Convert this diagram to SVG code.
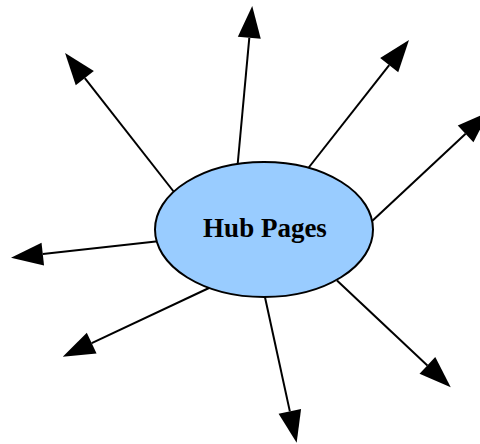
<svg xmlns="http://www.w3.org/2000/svg" width="480" height="444" viewBox="0 0 480 444">
  <style>
    .edge { stroke: #000; stroke-width: 2; fill: none; marker-end: url(#head); }
    .hub { fill: #99CCFF; stroke: #000; stroke-width: 2; }
    .label { font-family: "Liberation Serif", "Times New Roman", serif; font-weight: bold; font-size: 27px; fill: #000; }
  </style>
  <defs>
    <marker id="head" markerUnits="userSpaceOnUse" markerWidth="34" markerHeight="24" refX="0" refY="11.5" orient="auto" overflow="visible">
      <path d="M0,0 L32,11.5 L0,23 Z" fill="#000"/>
    </marker>
  </defs>

  <!-- spokes leaving the hub; each line stops at the base of its arrowhead -->
  <g id="connectors">
    <line class="edge" x1="237.5" y1="166" x2="249.3" y2="37.8"/>
    <line class="edge" x1="174" y1="192" x2="84.8" y2="78.2"/>
    <line class="edge" x1="306" y1="171" x2="389.2" y2="65.1"/>
    <line class="edge" x1="370" y1="223" x2="465.6" y2="133.8"/>
    <line class="edge" x1="158" y1="241.3" x2="42.8" y2="254.1"/>
    <line class="edge" x1="209" y1="288" x2="91.7" y2="343.1"/>
    <line class="edge" x1="264.5" y1="295" x2="289.85" y2="411.4"/>
    <line class="edge" x1="337" y1="280.5" x2="427.4" y2="365.4"/>
  </g>

  <g id="hub-pages">
    <ellipse class="hub" cx="264" cy="229.5" rx="109" ry="67.5"/>
    <text class="label" x="265" y="237" text-anchor="middle">Hub Pages</text>
  </g>
</svg>
